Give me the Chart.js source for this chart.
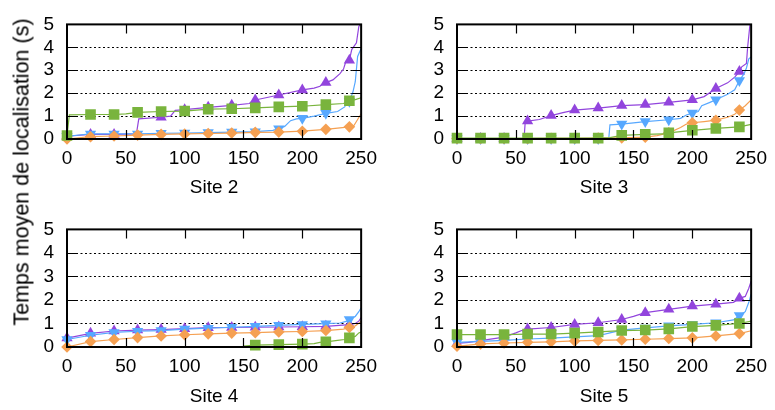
<!DOCTYPE html>
<html><head><meta charset="utf-8">
<script src="https://cdn.jsdelivr.net/npm/chart.js@4/dist/chart.umd.min.js"></script>
<style>
html,body{margin:0;padding:0;background:#fff;width:775px;height:410px;overflow:hidden;position:relative;}
canvas{position:absolute;}
#ytitle{position:absolute;left:22px;top:172px;transform:translate(-50%,-50%) rotate(-90deg);font:21.5px "Liberation Sans",Arial,sans-serif;white-space:nowrap;color:#000;}
</style></head><body>
<canvas id="c1" width="385" height="205" style="left:0;top:0"></canvas>
<canvas id="c2" width="385" height="205" style="left:390px;top:0"></canvas>
<canvas id="c3" width="385" height="205" style="left:0;top:205px"></canvas>
<canvas id="c4" width="385" height="205" style="left:390px;top:205px"></canvas>
<div id="ytitle">Temps moyen de localisation (s)</div>
<script>
// ---- data ----
const xTicks = [0, 50, 100, 150, 200, 250];
const yTicks = [0, 1, 2, 3, 4, 5];
const siteNames = ['Site 2', 'Site 3', 'Site 4', 'Site 5'];

// Site 2
const s2Purple = [[0,0.12],[20,0.2],[40,0.2],[59,0.22],[61,0.88],[80,0.95],[88,1.0],[92,1.25],[100,1.28],[120,1.38],[140,1.47],[155,1.55],[158,1.68],[160,1.7],[180,1.92],[200,2.14],[210,2.22],[215,2.3],[218,2.45],[220,2.46],[226,2.58],[232,2.85],[235,3.05],[237,3.38],[240,3.44],[242,3.9],[246,4.2],[248,4.9],[249,5.0]];
const s2Blue = [[0,0.12],[20,0.22],[40,0.22],[60,0.22],[80,0.25],[100,0.26],[120,0.28],[140,0.3],[160,0.32],[175,0.38],[180,0.45],[185,0.55],[190,0.8],[195,0.88],[200,0.9],[210,1.0],[220,1.12],[230,1.2],[236,1.4],[238,1.6],[240,1.65],[243,2.05],[245,2.5],[247,3.6],[250,3.95]];
const s2Green = [[0,0.15],[2,1.05],[20,1.07],[40,1.07],[50,1.1],[60,1.16],[80,1.2],[100,1.22],[110,1.26],[120,1.3],[140,1.32],[160,1.36],[180,1.4],[200,1.43],[220,1.5],[235,1.55],[240,1.67],[245,1.72],[250,1.8]];
const s2Orange = [[0,0.0],[20,0.1],[40,0.13],[60,0.17],[80,0.2],[100,0.22],[120,0.24],[140,0.26],[160,0.29],[180,0.3],[200,0.34],[220,0.42],[240,0.53],[244,0.6],[247,0.85],[250,1.1]];

// Site 3
const s3Purple = [[0,0.02],[20,0.02],[40,0.02],[57,0.03],[58,0.75],[60,0.78],[70,0.85],[80,1.02],[90,1.15],[100,1.26],[120,1.35],[140,1.46],[160,1.5],[180,1.6],[200,1.71],[210,1.85],[220,2.2],[230,2.45],[236,2.7],[240,2.94],[242,3.15],[246,3.3],[247,4.0],[249,5.0]];
const s3Blue = [[0,0.02],[20,0.02],[40,0.02],[60,0.02],[80,0.02],[100,0.02],[120,0.02],[129,0.02],[130,0.62],[140,0.65],[160,0.76],[180,0.84],[190,0.9],[195,1.05],[200,1.13],[205,1.2],[208,1.45],[215,1.6],[220,1.71],[230,1.95],[236,2.15],[240,2.55],[244,2.85],[246,3.1],[248,3.5],[250,3.58]];
const s3Green = [[0,0.04],[20,0.04],[40,0.04],[60,0.04],[80,0.04],[100,0.04],[120,0.04],[130,0.06],[140,0.16],[160,0.2],[175,0.22],[178,0.27],[180,0.27],[200,0.38],[220,0.46],[240,0.53],[250,0.64]];
const s3Orange = [[0,0.02],[20,0.02],[40,0.02],[60,0.02],[80,0.03],[100,0.03],[120,0.04],[140,0.05],[160,0.08],[170,0.15],[180,0.27],[190,0.5],[195,0.65],[200,0.71],[210,0.76],[220,0.82],[230,0.95],[236,1.08],[240,1.26],[245,1.45],[250,1.71]];

// Site 4
const s4Purple = [[0,0.38],[20,0.58],[40,0.68],[60,0.72],[80,0.74],[100,0.78],[120,0.82],[140,0.83],[160,0.84],[180,0.85],[200,0.86],[220,0.88],[240,0.95],[245,1.0],[248,1.1],[250,1.25]];
const s4Blue = [[0,0.32],[20,0.5],[40,0.62],[60,0.67],[80,0.7],[100,0.76],[120,0.8],[140,0.84],[160,0.88],[180,0.92],[200,0.96],[220,0.99],[232,1.02],[238,1.1],[240,1.17],[245,1.3],[248,1.5],[250,1.67]];
const s4Green = [[150,0.04],[160,0.08],[180,0.1],[200,0.12],[210,0.14],[215,0.2],[220,0.22],[230,0.28],[236,0.32],[240,0.39],[245,0.45],[248,0.6],[250,0.64]];
const s4Orange = [[0,0.0],[20,0.23],[40,0.32],[60,0.4],[80,0.47],[100,0.52],[120,0.56],[140,0.59],[160,0.61],[180,0.64],[200,0.66],[220,0.7],[235,0.76],[240,0.83],[245,0.9],[250,1.08]];

// Site 5
const s5Purple = [[0,0.15],[10,0.2],[20,0.27],[40,0.42],[50,0.6],[55,0.7],[60,0.76],[80,0.83],[100,0.96],[120,1.03],[140,1.17],[150,1.3],[160,1.46],[180,1.6],[200,1.74],[220,1.82],[235,1.9],[240,2.07],[245,2.15],[248,2.5],[250,2.8]];
const s5Blue = [[0,0.2],[20,0.24],[40,0.28],[60,0.34],[80,0.38],[100,0.43],[120,0.48],[130,0.6],[140,0.72],[160,0.81],[180,0.9],[200,0.96],[220,1.03],[235,1.15],[240,1.34],[245,1.5],[248,1.9],[250,2.25]];
const s5Green = [[0,0.53],[20,0.53],[40,0.53],[60,0.55],[80,0.55],[100,0.59],[120,0.64],[140,0.7],[160,0.72],[180,0.77],[200,0.87],[220,0.92],[240,1.0],[250,1.1]];
const s5Orange = [[0,0.03],[20,0.13],[40,0.17],[60,0.2],[80,0.22],[100,0.26],[120,0.28],[140,0.3],[160,0.33],[180,0.36],[200,0.39],[220,0.47],[240,0.57],[250,0.69]];

const markerEvery = 20;

// ---- styles ----
const FONT = '"Liberation Sans", Arial, sans-serif';
const FS = 19;
const styles = {
  purple: {color: '#9245dd', shape: 'triangle', r: 6.5, rot: 0},
  blue:   {color: '#57a8ff', shape: 'triangle', r: 6.5, rot: 180},
  green:  {color: '#79b43d', shape: 'rect', r: 7.5, rot: 0},
  orange: {color: '#f5a052', shape: 'rectRot', r: 5.8, rot: 0}
};

function ds(pairs, st) {
  return {
    data: pairs.map(p => ({x: p[0], y: p[1]})),
    borderColor: st.color,
    backgroundColor: st.color,
    borderWidth: 1.2,
    pointStyle: st.shape,
    pointRotation: st.rot,
    pointBackgroundColor: st.color,
    pointBorderColor: st.color,
    pointBorderWidth: 0,
    pointRadius: c => (c.raw && c.raw.x % markerEvery === 0) ? st.r : 0,
    pointHoverRadius: 0,
    tension: 0,
    clip: 12
  };
}

const framePlugin = {
  id: 'frame',
  beforeDatasetsDraw(chart) {
    const {ctx, chartArea: a, scales: {y}} = chart;
    ctx.save();
    ctx.strokeStyle = '#000';
    ctx.lineWidth = 1;
    ctx.setLineDash([2, 2.5]);
    yTicks.slice(1, -1).forEach(v => {
      const py = Math.round(y.getPixelForValue(v)) + 0.5;
      ctx.beginPath(); ctx.moveTo(a.left, py); ctx.lineTo(a.right, py); ctx.stroke();
    });
    ctx.restore();
  },
  afterDatasetsDraw(chart) {
    const {ctx, chartArea: a, scales: {x, y}} = chart;
    const TL = 9;
    ctx.save();
    ctx.strokeStyle = '#000';
    ctx.lineWidth = 1.2;
    ctx.setLineDash([]);
    ctx.beginPath();
    xTicks.slice(1, -1).forEach(v => {
      const px = Math.round(x.getPixelForValue(v)) + 0.5;
      ctx.moveTo(px, a.bottom); ctx.lineTo(px, a.bottom - TL);
      ctx.moveTo(px, a.top); ctx.lineTo(px, a.top + TL);
    });
    yTicks.slice(1, -1).forEach(v => {
      const py = Math.round(y.getPixelForValue(v)) + 0.5;
      ctx.moveTo(a.left, py); ctx.lineTo(a.left + TL, py);
      ctx.moveTo(a.right, py); ctx.lineTo(a.right - TL, py);
    });
    ctx.stroke();
    ctx.lineWidth = 2;
    ctx.strokeRect(a.left, a.top, a.right - a.left, a.bottom - a.top);
    ctx.restore();
  }
};

function makeChart(id, name, series, pad, xH) {
  new Chart(document.getElementById(id), {
    type: 'line',
    data: {datasets: [ds(series[2], styles.green), ds(series[3], styles.orange), ds(series[1], styles.blue), ds(series[0], styles.purple)]},
    options: {
      responsive: false,
      animation: false,
      events: [],
      layout: {padding: pad},
      plugins: {legend: {display: false}, tooltip: {enabled: false}},
      scales: {
        x: {
          type: 'linear', min: xTicks[0], max: xTicks[xTicks.length - 1],
          afterBuildTicks: s => { s.ticks = xTicks.map(v => ({value: v})); },
          afterFit: s => { s.height = xH; },
          ticks: {font: {family: FONT, size: FS}, color: '#000', padding: 8, maxRotation: 0, autoSkip: false},
          grid: {display: false, drawTicks: false},
          border: {display: false},
          title: {display: true, text: name, font: {family: FONT, size: FS}, color: '#000', padding: 0}
        },
        y: {
          type: 'linear', min: yTicks[0], max: yTicks[yTicks.length - 1],
          afterBuildTicks: s => { s.ticks = yTicks.map(v => ({value: v})); },
          afterFit: s => { s.width = 67; },
          ticks: {font: {family: FONT, size: FS}, color: '#000', padding: 13, autoSkip: false},
          grid: {display: false, drawTicks: false},
          border: {display: false}
        }
      }
    },
    plugins: [framePlugin]
  });
}

makeChart('c1', siteNames[0], [s2Purple, s2Blue, s2Green, s2Orange], {left: 0, top: 17, right: 19, bottom: 6}, 60);
makeChart('c2', siteNames[1], [s3Purple, s3Blue, s3Green, s3Orange], {left: 0, top: 17, right: 20, bottom: 6}, 60);
makeChart('c3', siteNames[2], [s4Purple, s4Blue, s4Green, s4Orange], {left: 0, top: 19, right: 19, bottom: 1.5}, 61.5);
makeChart('c4', siteNames[3], [s5Purple, s5Blue, s5Green, s5Orange], {left: 0, top: 19, right: 20, bottom: 1.5}, 61.5);
</script>
</body></html>
